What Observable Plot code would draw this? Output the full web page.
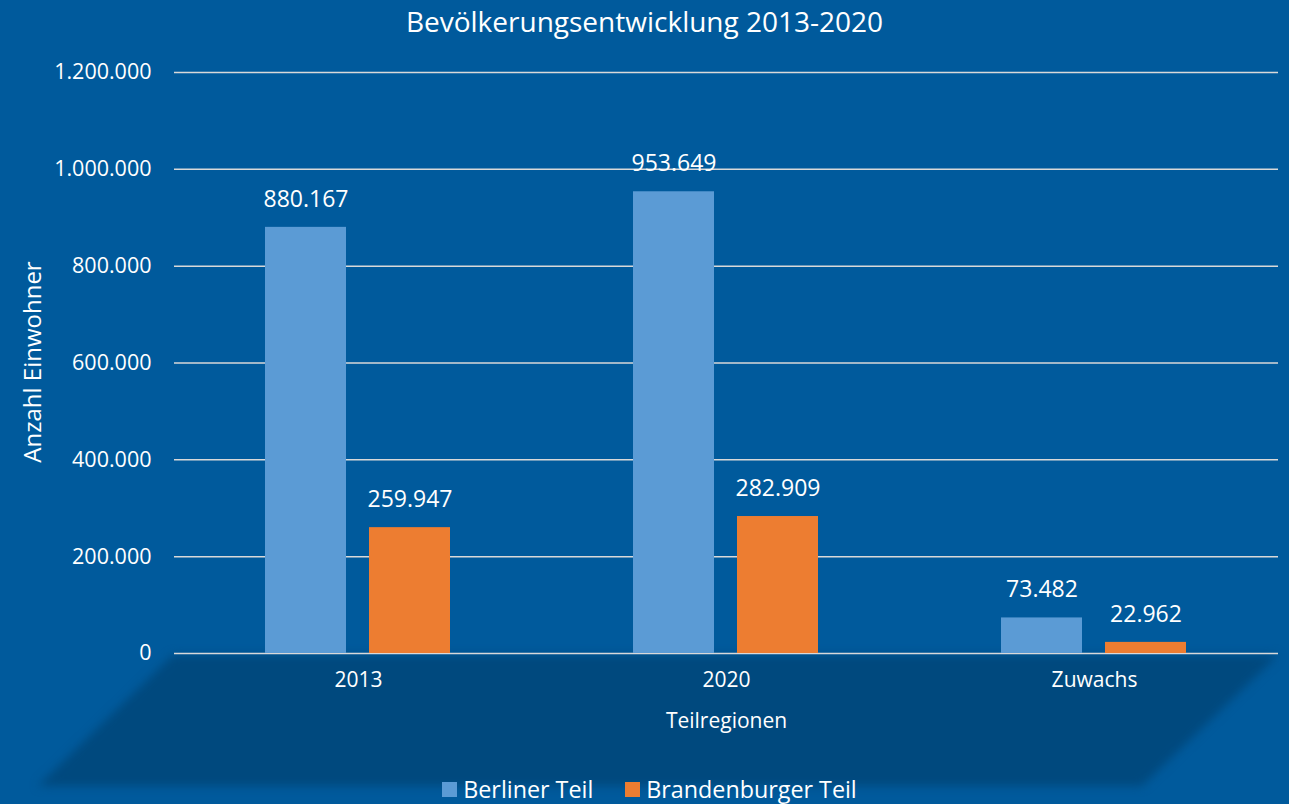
<!DOCTYPE html>
<html>
<head>
<meta charset="utf-8">
<script src="https://cdn.jsdelivr.net/npm/d3@7"></script>
<script src="https://cdn.jsdelivr.net/npm/@observablehq/plot@0.6"></script>
<style>
  html, body { margin: 0; padding: 0; background: #005a9c; }
  #wrap { position: relative; width: 1289px; height: 804px; overflow: hidden; background: #005a9c; font-family: "Open Sans", sans-serif; color: #fff; }
  #title { position: absolute; left: 0; top: 0; width: 1289px; height: 42px; line-height: 42px; text-align: center; font-size: 28px; color: #fff; }
  #shadowOuter { position: absolute; left: 0; top: 0; width: 1289px; height: 804px; filter: blur(5px); }
  #shadowInner { position: absolute; left: 0; top: 0; width: 1289px; height: 804px; background: #00497e;
    clip-path: polygon(173px 655px, 1278px 655px, 1142px 786px, 38px 786px); }
  #chart { position: absolute; left: 0; top: 45px; }
  #ylabel { position: absolute; left: 32px; top: 362px; transform: translate(-50%, -50%) rotate(-90deg); font-size: 24px; white-space: nowrap; line-height: 1; }
  #legend { position: absolute; left: 5px; top: 772px; width: 1289px; text-align: center; font-size: 23.3px; line-height: 30px; white-space: nowrap; }
  .item { display: inline-flex; align-items: center; margin: 0 16px; }
  .sw { display: inline-block; width: 15px; height: 15px; margin-right: 6px; position: relative; top: 1px; }
</style>
</head>
<body>
<div id="wrap">
  <div id="shadowOuter"><div id="shadowInner"></div></div>
  <div id="title">Bevölkerungsentwicklung 2013-2020</div>
  <div id="chart"></div>
  <div id="ylabel">Anzahl Einwohner</div>
  <div id="legend"></div>
</div>
<script>
const categories = ["2013", "2020", "Zuwachs"];
const seriesNames = ["Berliner Teil", "Brandenburger Teil"];
const berlinerValues = [880167, 953649, 73482];
const brandenburgerValues = [259947, 282909, 22962];
const yTicks = [0, 200000, 400000, 600000, 800000, 1000000, 1200000];
const seriesColors = ["#5b9bd5", "#ed7d31"];

const de = d3.formatLocale({decimal: ",", thousands: ".", grouping: [3], currency: ["", " €"]});
const fmt = de.format(",d");

const data = [];
categories.forEach((c, i) => {
  data.push({cat: c, series: seriesNames[0], value: berlinerValues[i]});
  data.push({cat: c, series: seriesNames[1], value: brandenburgerValues[i]});
});

const chart = Plot.plot({
  width: 1289,
  height: 715,
  marginLeft: 173,
  marginRight: 11,
  marginTop: 27,
  marginBottom: 107,
  style: {background: "transparent", color: "#fff", fontFamily: "Open Sans, sans-serif", fontSize: "21px", overflow: "visible"},
  fx: {domain: categories, padding: 0},
  x: {domain: seriesNames, paddingInner: 0.219, paddingOuter: 0.862},
  y: {domain: [0, 1200000]},
  color: {domain: seriesNames, range: seriesColors},
  marks: [
    Plot.gridY(yTicks, {stroke: "#d9d9d9", strokeOpacity: 1, strokeWidth: 1.5}),
    Plot.axisY({ticks: yTicks, tickFormat: fmt, tickSize: 0, tickPadding: 23, fontSize: 21.5, label: null}),
    Plot.axisX({ticks: [], label: null}),
    Plot.axisFx({anchor: "bottom", tickSize: 0, tickPadding: 19, fontSize: 21, label: "Teilregionen", labelAnchor: "center", labelOffset: 74}),
    Plot.barY(data, {fx: "cat", x: "series", y: "value", fill: "series"}),
    Plot.text(data, {fx: "cat", x: "series", y: "value", text: d => fmt(d.value), dy: -28, fill: "#fff", fontSize: 23})
  ]
});
document.getElementById("chart").appendChild(chart);

const legend = document.getElementById("legend");
seriesNames.forEach((s, i) => {
  const item = document.createElement("span");
  item.className = "item";
  const sw = document.createElement("span");
  sw.className = "sw";
  sw.style.background = seriesColors[i];
  item.appendChild(sw);
  item.appendChild(document.createTextNode(s));
  legend.appendChild(item);
});
</script>
</body>
</html>
